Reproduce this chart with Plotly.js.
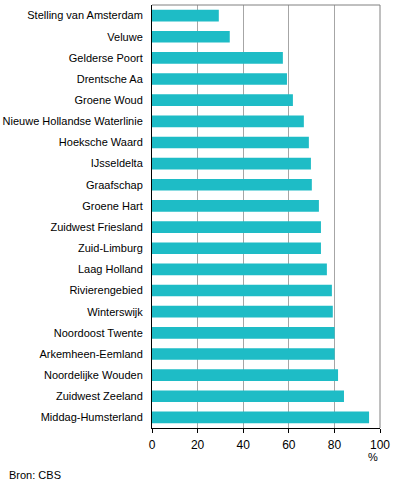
<!DOCTYPE html>
<html><head><meta charset="utf-8">
<script src="https://cdn.plot.ly/plotly-3.0.1.min.js"></script>
<style>html,body{margin:0;padding:0;background:#fff;}#chart{width:396px;height:491px;}</style>
</head><body><div id="chart"></div>
<script>
const categories = ["Stelling van Amsterdam","Veluwe","Gelderse Poort","Drentsche Aa","Groene Woud","Nieuwe Hollandse Waterlinie","Hoeksche Waard","IJsseldelta","Graafschap","Groene Hart","Zuidwest Friesland","Zuid-Limburg","Laag Holland","Rivierengebied","Winterswijk","Noordoost Twente","Arkemheen-Eemland","Noordelijke Wouden","Zuidwest Zeeland","Middag-Humsterland"];
const values = [29.3,34.1,57.4,59.2,61.8,66.6,68.8,69.7,70.1,73.2,74.1,74.1,76.7,78.9,79.3,80.1,80.1,81.6,84.2,95.2];
const xTicks = [0,20,40,60,80,100];

const trace = {type:'bar', orientation:'h', y:categories, x:values,
  marker:{color:'#1EBCC6'}, hoverinfo:'x+y'};
const layout = {
  width:396, height:491,
  margin:{l:152, r:16, t:5, b:63},
  paper_bgcolor:'#fff', plot_bgcolor:'#fff',
  font:{family:'Liberation Sans, Arial, sans-serif', size:11, color:'#000'},
  bargap:0.45,
  showlegend:false,
  xaxis:{range:[0,100], tickvals:xTicks, showgrid:true, gridcolor:'#A6A6A6', gridwidth:1,
    zeroline:false, showline:true, linecolor:'#000', linewidth:1, ticks:'outside', ticklen:4, tickcolor:'#000',
    mirror:false, fixedrange:true, tickfont:{size:12}, ticklabelstandoff:2},
  yaxis:{autorange:'reversed', type:'category', showline:true, linecolor:'#000', linewidth:1,
    ticks:'', showgrid:false, zeroline:false, fixedrange:true, ticklabelstandoff:6},
  shapes:[
    {type:'line', xref:'paper', yref:'paper', x0:0, x1:1, y0:1, y1:1, line:{color:'#808080', width:1}},
    {type:'line', xref:'paper', yref:'paper', x0:1, x1:1, y0:0, y1:1, line:{color:'#808080', width:1}}
  ],
  annotations:[
    {text:'%', xref:'paper', yref:'paper', x:0.97, y:-0.068, xanchor:'center', yanchor:'middle', showarrow:false, font:{size:11}},
    {text:'Bron: CBS', xref:'paper', yref:'paper', x:-152/228, y:-0.11, xanchor:'left', yanchor:'middle', showarrow:false, font:{size:11}, xshift:7}
  ]
};
Plotly.newPlot('chart',[trace],layout,{displayModeBar:false, staticPlot:true});
</script></body></html>
